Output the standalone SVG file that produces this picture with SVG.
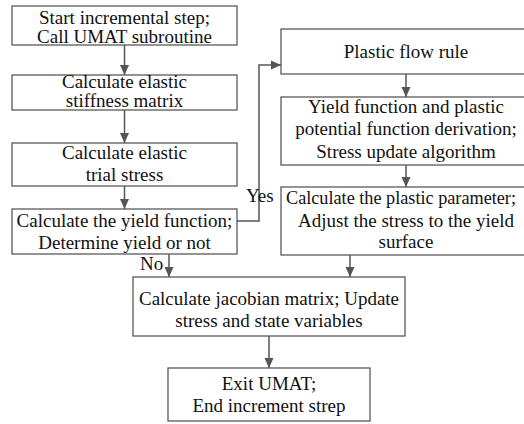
<svg xmlns="http://www.w3.org/2000/svg" width="524" height="424" viewBox="0 0 524 424">
<defs>
<style>
.box{fill:#fff;stroke:#595959;stroke-width:1.3}
.t{font-family:"Liberation Serif","Times New Roman",serif;font-size:19px;fill:#111;text-anchor:middle}
.lbl{font-family:"Liberation Serif","Times New Roman",serif;font-size:19px;fill:#111}
.c{fill:none;stroke:#555;stroke-width:1.5}
</style>
<marker id="ah" viewBox="0 0 10 10" refX="10" refY="5" markerWidth="10" markerHeight="10" markerUnits="userSpaceOnUse" orient="auto">
<path d="M0,0.5 L10,5 L0,9.5 Z" fill="#555"/>
</marker>
</defs>
<rect width="524" height="424" fill="#fff"/>
<g id="connectors">
<line class="c" x1="124.5" y1="45" x2="124.5" y2="75" marker-end="url(#ah)"/>
<line class="c" x1="124.5" y1="110" x2="124.5" y2="143" marker-end="url(#ah)"/>
<line class="c" x1="124.5" y1="186" x2="124.5" y2="209" marker-end="url(#ah)"/>
<polyline class="c" points="237,221 259,221 259,65 281,65" marker-end="url(#ah)"/>
<line class="c" x1="406" y1="74" x2="406" y2="97" marker-end="url(#ah)"/>
<line class="c" x1="406" y1="165" x2="406" y2="187" marker-end="url(#ah)"/>
<line class="c" x1="350" y1="255" x2="350" y2="277" marker-end="url(#ah)"/>
<line class="c" x1="169" y1="254" x2="169" y2="277" marker-end="url(#ah)"/>
<line class="c" x1="269" y1="336" x2="269" y2="368" marker-end="url(#ah)"/>
<text class="lbl" x="246" y="202">Yes</text>
<text class="lbl" x="140" y="270">No</text>
</g>
<g id="n1"><rect class="box" x="12" y="6" width="225" height="39"/>
<text class="t" x="124.5" y="24">Start incremental step;</text>
<text class="t" x="124.5" y="43">Call UMAT subroutine</text></g>
<g id="n2"><rect class="box" x="12" y="75" width="225" height="35"/>
<text class="t" x="124.5" y="88">Calculate elastic</text>
<text class="t" x="124.5" y="107">stiffness matrix</text></g>
<g id="n3"><rect class="box" x="12" y="143" width="225" height="43"/>
<text class="t" x="124.5" y="159">Calculate elastic</text>
<text class="t" x="124.5" y="181">trial stress</text></g>
<g id="n4"><rect class="box" x="12" y="209" width="225" height="45"/>
<text class="t" x="124.5" y="227">Calculate the yield function;</text>
<text class="t" x="124.5" y="249">Determine yield or not</text></g>
<g id="n5"><rect class="box" x="281" y="29" width="250" height="45"/>
<text class="t" x="406" y="58">Plastic flow rule</text></g>
<g id="n6"><rect class="box" x="281" y="97" width="250" height="68"/>
<text class="t" x="406" y="113">Yield function and plastic</text>
<text class="t" x="406" y="135">potential function derivation;</text>
<text class="t" x="406" y="158">Stress update algorithm</text></g>
<g id="n7"><rect class="box" x="281" y="187" width="250" height="68"/>
<text class="lbl" x="286" y="204" textLength="230" lengthAdjust="spacingAndGlyphs">Calculate the plastic parameter;</text>
<text class="t" x="406" y="227">Adjust the stress to the yield</text>
<text class="t" x="406" y="248">surface</text></g>
<g id="n8"><rect class="box" x="133" y="277" width="272" height="59"/>
<text class="t" x="269" y="305">Calculate jacobian matrix; Update</text>
<text class="t" x="269" y="327">stress and state variables</text></g>
<g id="n9"><rect class="box" x="168" y="368" width="202" height="53"/>
<text class="t" x="269" y="390">Exit UMAT;</text>
<text class="t" x="269" y="412">End increment strep</text></g>
</svg>
